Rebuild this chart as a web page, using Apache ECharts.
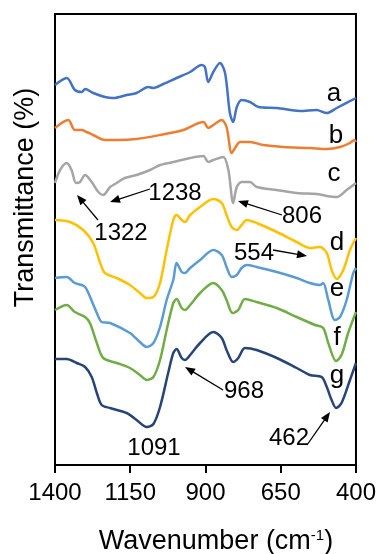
<!DOCTYPE html>
<html><head><meta charset="utf-8">
<script src="https://cdn.jsdelivr.net/npm/echarts@6/dist/echarts.min.js"></script>
<style>html,body{margin:0;padding:0;background:#fff}#c{width:379px;height:554px}</style>
</head><body><div id="c"></div>
<script>
// Wavenumber (cm-1) vs relative transmittance (offset, arbitrary units)
const xTicks = [400, 650, 900, 1150, 1400];
const seriesNames = ['a','b','c','d','e','f','g'];
const dataA = [[1400,380],[1361,387],[1334,375],[1311,373],[1300,376],[1273,372],[1234,368],[1206,367],[1162,370],[1129,372],[1090,378],[1073,377],[1040,381],[996,387],[951,393],[913,400],[902,398],[891,383],[874,393],[852,402],[835,392],[819,352],[808,343],[796,358],[780,365],[752,363],[724,358],[663,357],[586,354],[531,355],[497,352],[464,357],[400,367]];
const dataB = [[1400,337],[1356,345],[1334,335],[1311,335],[1295,333],[1273,330],[1234,325],[1195,325],[1129,326],[1051,330],[974,335],[907,343],[891,337],[874,340],[846,345],[830,338],[813,312],[802,317],[785,323],[752,323],[708,320],[641,318],[553,317],[497,316],[453,318],[420,322],[405,325],[400,323]];
const dataC = [[1400,282],[1383,295],[1361,302],[1345,295],[1330,282],[1317,283],[1300,290],[1278,283],[1256,273],[1240,270],[1217,278],[1195,282],[1168,287],[1129,290],[1084,295],[1051,300],[1007,303],[951,307],[907,309],[891,303],[874,305],[841,308],[824,295],[808,262],[796,278],[780,283],[752,283],[730,278],[663,275],[597,272],[531,271],[497,269],[464,268],[431,275],[400,282]];
const dataD = [[1400,245],[1350,243],[1306,235],[1273,222],[1250,202],[1234,192],[1195,187],[1151,180],[1118,172],[1095,167],[1073,168],[1051,182],[1029,215],[1007,245],[996,250],[979,245],[968,243],[951,250],[918,258],[874,266],[846,262],[830,250],[813,238],[796,235],[780,240],[763,245],[730,242],[663,233],[597,223],[553,217],[520,218],[497,212],[481,195],[464,186],[442,195],[420,215],[400,227]];
const dataE = [[1400,187],[1361,188],[1334,182],[1311,180],[1300,178],[1289,172],[1261,152],[1245,143],[1217,142],[1151,132],[1118,123],[1095,118],[1073,122],[1051,138],[1029,165],[1007,185],[996,202],[979,193],[968,192],[951,197],[918,205],[874,215],[846,210],[830,198],[813,188],[796,190],[780,197],[763,200],[730,198],[663,193],[597,187],[553,182],[520,180],[509,182],[492,165],[470,145],[453,148],[431,165],[409,192],[400,197]];
const dataF = [[1400,155],[1361,160],[1334,153],[1300,148],[1284,142],[1261,122],[1240,107],[1195,102],[1151,97],[1118,90],[1095,85],[1073,88],[1051,105],[1029,135],[1007,162],[996,166],[979,157],[968,155],[951,160],[918,172],[874,182],[846,175],[830,165],[810,152],[791,155],[769,166],[730,163],[663,157],[597,148],[536,140],[509,137],[492,122],[466,104],[448,110],[426,132],[400,153]];
const dataG = [[1400,106],[1361,106],[1328,102],[1300,98],[1278,88],[1261,72],[1245,60],[1217,57],[1162,52],[1129,45],[1095,38],[1073,41],[1051,58],[1024,92],[1007,112],[996,116],[979,107],[968,105],[951,110],[918,122],[874,133],[846,127],[830,115],[808,103],[791,107],[769,117],[730,115],[663,107],[597,97],[553,90],[514,88],[497,78],[481,65],[466,57],[448,62],[420,85],[400,102]];
const seriesData = [dataA, dataB, dataC, dataD, dataE, dataF, dataG];
const colors = ['#4472C4','#ED7D31','#A5A5A5','#FFC000','#5B9BD5','#70AD47','#264478'];

const FONT = '"Liberation Sans", Arial, sans-serif';

// annotation texts: [text, centerX, baselineY, fontSize]
const labelTexts = [
  ['a',334,103,26],['b',336,145,26],['c',334,183,26],['d',337,252,26],['e',337,298,26],['f',337,347,26],['g',337,385,26],
  ['1238',175,202,24],['1322',121,242,24],['806',302,225,24],['554',254,262,24],['968',244,400,24],['1091',154,457,24],['462',289,447,24]
];
// arrows: [fromX, fromY, tipX, tipY]
const arrows = [[150,189,110,202],[98,220,77,195],[282,215,238,201],[273,250,307,256],[223,390,185,367],[307,445,330,412]];

const graphic = [];
labelTexts.forEach(t => {
  graphic.push({type:'text', x:t[1], y:t[2] - 0.35*t[3], style:{text:t[0], font: t[3]+'px '+FONT, fill:'#000', align:'center', verticalAlign:'middle'}});
});
arrows.forEach(a => {
  const dx = a[2]-a[0], dy = a[3]-a[1];
  const L = Math.sqrt(dx*dx+dy*dy), ux = dx/L, uy = dy/L;
  const hl = 10, hw = 4;
  const bx = a[2]-ux*hl, by = a[3]-uy*hl;
  graphic.push({type:'line', shape:{x1:a[0],y1:a[1],x2:bx+ux*2,y2:by+uy*2}, style:{stroke:'#000', lineWidth:1.3}});
  graphic.push({type:'polygon', shape:{points:[[a[2],a[3]],[bx-uy*hw,by+ux*hw],[bx+uy*hw,by-ux*hw]]}, style:{fill:'#000'}});
});
graphic.push({type:'text', x:25.5, y:197.5, rotation:Math.PI/2, style:{text:'Transmittance (%)', font:'27px '+FONT, fill:'#000', align:'center', verticalAlign:'middle'}});
graphic.push({type:'text', x:216, y:542, style:{
  text:'{a|Wavenumber (cm}{s|-1}{a|)}', align:'center', verticalAlign:'middle',
  rich:{a:{fontSize:27, fontFamily:FONT, fill:'#000', color:'#000', verticalAlign:'bottom'}, s:{fontSize:15, fontFamily:FONT, color:'#000', fill:'#000', verticalAlign:'top'}}
}});

const chart = echarts.init(document.getElementById('c'), null, {renderer:'canvas'});
chart.setOption({
  animation:false,
  grid:{left:55, right:22, top:14, bottom:89, show:true, borderColor:'#000', borderWidth:2, containLabel:false},
  xAxis:{type:'value', min:400, max:1400, inverse:true,
    axisLine:{show:true, onZero:false, lineStyle:{color:'#000', width:2}},
    axisTick:{show:true, inside:false, length:8, lineStyle:{color:'#000', width:2}, customValues:xTicks},
    axisLabel:{customValues:xTicks, fontSize:24, fontFamily:FONT, color:'#000', margin:16, formatter: v => String(v)},
    splitLine:{show:false}},
  yAxis:{type:'value', min:0, max:451, axisLine:{show:false}, axisTick:{show:false}, axisLabel:{show:false}, splitLine:{show:false}},
  series: seriesData.map((d,i) => ({name:seriesNames[i], type:'line', data:d, showSymbol:false, smooth:0.3,
    lineStyle:{color:colors[i], width:2.5}, itemStyle:{color:colors[i]}, z:2+i})),
  graphic: graphic
});
</script></body></html>
